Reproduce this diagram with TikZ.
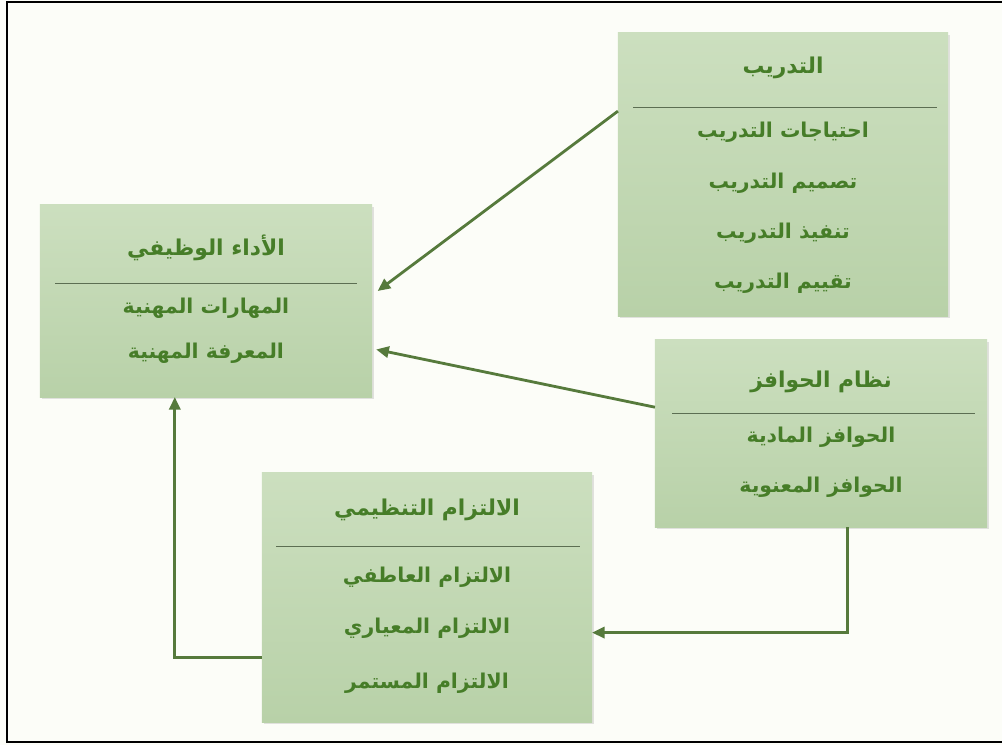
\documentclass[tikz,border=0pt]{standalone}
\usepackage{fontspec}
\newfontfamily\arabicfont[Script=Arabic]{DejaVu Sans}
\TeXXeTstate=1
\usetikzlibrary{shadows, arrows.meta}

\definecolor{boxtop}{RGB}{204,223,191}
\definecolor{boxbot}{RGB}{184,209,168}
\definecolor{linkgreen}{RGB}{86,122,60}
\definecolor{textgreen}{RGB}{70,125,40}
\definecolor{rulegray}{RGB}{92,110,82}
\definecolor{paper}{RGB}{252,253,248}

\tikzset{
  box/.style={rectangle, inner sep=0pt, outer sep=0pt, top color=boxtop, bottom color=boxbot,
    drop shadow={opacity=0.22, shadow xshift=1.5pt, shadow yshift=-1.5pt}},
  title/.style={text=textgreen, font=\arabicfont\bfseries\fontsize{15.5}{18}\selectfont},
  item/.style={text=textgreen, font=\arabicfont\bfseries\fontsize{14.5}{17}\selectfont},
  link/.style={-{Triangle[length=9pt, width=8pt]}, draw=linkgreen, line width=2pt},
  sep/.style={draw=rulegray, line width=0.6pt},
}

\begin{document}
\begin{tikzpicture}[x=0.025cm, y=-0.025cm]
    \useasboundingbox[fill=paper] (0,0) rectangle (1002,745);
    \draw[black, line width=1.5pt] (1002,2) -- (7,2) -- (7,742) -- (1002,742);

    % boxes
    \node[box, minimum width=8.25cm, minimum height=7.075cm] (train) at (783,174.5) {};
    \node[box, minimum width=8.3cm, minimum height=4.8cm] (perf) at (206,301) {};
    \node[box, minimum width=8.3cm, minimum height=4.675cm] (inc) at (821,433.5) {};
    \node[box, minimum width=8.25cm, minimum height=6.225cm] (commit) at (427,597.5) {};

    % training
    \node[title] (train-t) at (783,68) {\beginR التدريب\endR};
    \draw[sep] (633,107) -- (937,107);
    \foreach \y/\txt [count=\i] in {132/احتياجات التدريب, 183/تصميم التدريب,
        233/تنفيذ التدريب, 283/تقييم التدريب}
        \node[item] (train-\i) at (783,\y) {\beginR\txt\endR};

    % job performance
    \node[title] (perf-t) at (206,248) {\beginR الأداء الوظيفي\endR};
    \draw[sep] (55,283) -- (357,283);
    \foreach \y/\txt [count=\i] in {308/المهارات المهنية, 353/المعرفة المهنية}
        \node[item] (perf-\i) at (206,\y) {\beginR\txt\endR};

    % incentives
    \node[title] (inc-t) at (821,382) {\beginR نظام الحوافز\endR};
    \draw[sep] (672,413) -- (975,413);
    \foreach \y/\txt [count=\i] in {437/الحوافز المادية, 487/الحوافز المعنوية}
        \node[item] (inc-\i) at (821,\y) {\beginR\txt\endR};

    % commitment
    \node[title] (commit-t) at (427,510) {\beginR الالتزام التنظيمي\endR};
    \draw[sep] (276,546) -- (580,546);
    \foreach \y/\txt [count=\i] in {577/الالتزام العاطفي, 628/الالتزام المعياري,
        683/الالتزام المستمر}
        \node[item] (commit-\i) at (427,\y) {\beginR\txt\endR};

    % links
    \draw[link, shorten >=5] (train.159) -- (perf.2);
    \draw[link, shorten >=3] (inc.171) -- (perf.-16);
    \draw[link] (inc.-74) |- (commit.-12);
    \draw[link] (commit.200) -| (perf.-108);
\end{tikzpicture}
\end{document}
